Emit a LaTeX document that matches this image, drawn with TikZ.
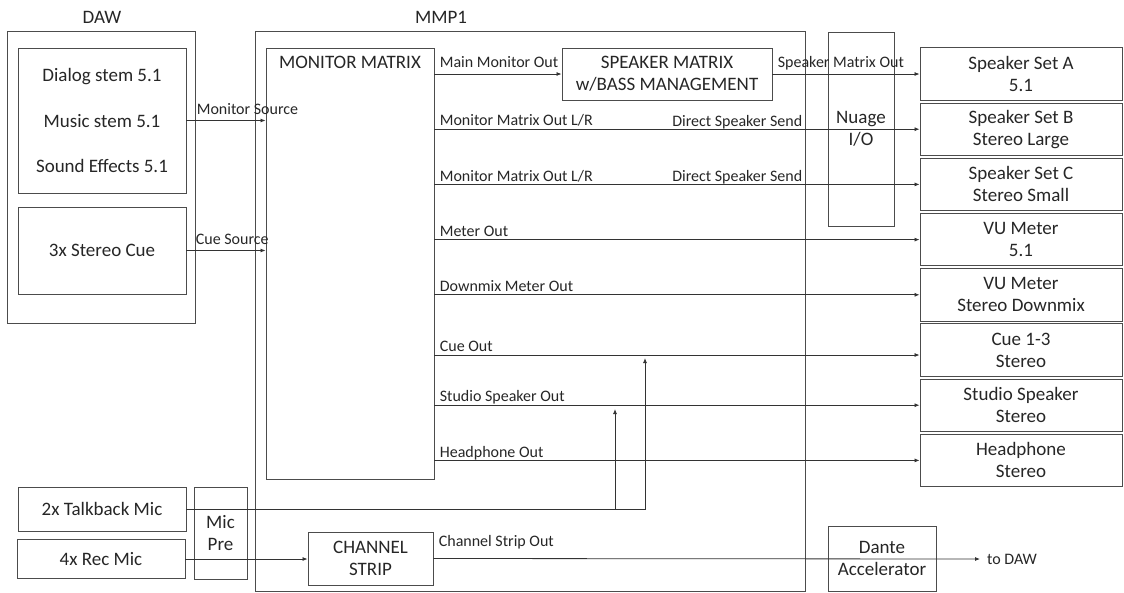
\documentclass[tikz,border=0pt]{standalone}
\usepackage{fontspec}
\setmainfont{Carlito}
\usetikzlibrary{positioning,arrows.meta}

\begin{document}
\begin{tikzpicture}[x=1pt, y=-1pt,
      node distance=1.8pt,
      box/.style={draw=black!70, line width=0.9pt, align=center, inner sep=2pt,
                  text=black!85, font=\fontsize{19}{22}\selectfont},
      outbox/.style={box, minimum width=202pt, minimum height=52.5pt},
      heading/.style={text=black!85, font=\fontsize{19}{22}\selectfont},
      lbl/.style={text=black!85, font=\fontsize{16}{19}\selectfont,
                  inner xsep=5pt, inner ysep=3pt, text depth=0pt},
      lblhi/.style={lbl, yshift=3pt},
      wire/.style={draw=black!80, line width=0.8pt},
      >={Latex[length=5pt,width=4pt]}]
    \useasboundingbox (0,0) rectangle (1124,592);

    % DAW
    \node[heading] (dawtitle) at (102,17) {DAW};
    \node[box, minimum width=188pt, minimum height=292pt] (daw) at (101,177) {};
    \node[box, minimum width=168pt, minimum height=145pt,
          font=\fontsize{19}{45.5}\selectfont] (stems) at (102,120.5)
          {Dialog stem 5.1\\ Music stem 5.1\\ Sound Effects 5.1};
    \node[box, minimum width=168pt, minimum height=87pt] (cuesrc) at (102,250.5) {3x Stereo Cue};

    % MMP1
    \node[heading] (mmptitle) at (441,17) {MMP1};
    \node[box, minimum width=550pt, minimum height=560pt] (mmp) at (530,311) {};
    \node[box, minimum width=168pt, minimum height=431pt] (mm) at (350,263.5) {};
    \node[heading, below=5pt of mm.north] (mmtitle) {MONITOR MATRIX};
    \node[box, minimum width=210pt, minimum height=52pt] (spkm) at (667,74)
          {SPEAKER MATRIX\\ w/BASS MANAGEMENT};
    \node[box, minimum width=125pt, minimum height=53pt] (strip) at (370.5,558.5) {CHANNEL\\ STRIP};
    \node[box, minimum width=66pt, minimum height=194pt] (nuage) at (861,129) {Nuage\\ I/O};
    \node[box, minimum width=108pt, minimum height=65pt] (dante) at (882,558.5) {Dante\\ Accelerator};

    % mics
    \node[box, minimum width=168pt, minimum height=44pt] (tb) at (102,509) {2x Talkback Mic};
    \node[box, minimum width=168pt, minimum height=39pt] (rec) at (101,559) {4x Rec Mic};
    \node[box, minimum width=53pt, minimum height=92pt] (micpre) at (220.5,533) {Mic\\ Pre};

    % outputs
    \node[outbox] (spkA) at (1021,74) {Speaker Set A\\ 5.1};
    \node[outbox, below=of spkA]   (spkB)   {Speaker Set B\\ Stereo Large};
    \node[outbox, below=of spkB]   (spkC)   {Speaker Set C\\ Stereo Small};
    \node[outbox, below=of spkC]   (vu)     {VU Meter\\ 5.1};
    \node[outbox, below=of vu]     (vudm)   {VU Meter\\ Stereo Downmix};
    \node[outbox, below=of vudm]   (cue)    {Cue 1-3\\ Stereo};
    \node[outbox, below=of cue]    (studio) {Studio Speaker\\ Stereo};
    \node[outbox, below=of studio] (hp)     {Headphone\\ Stereo};

    \coordinate (cuein)    at (645,358);
    \coordinate (studioin) at (615,409);
    \coordinate (todaw)    at (980,559);

    % sources into the matrix
    \draw[wire, ->] (stems.east) -- node[lblhi, pos=0, above right, xshift=5pt] {Monitor Source} (stems.east -| mm.west);
    \draw[wire, ->] (cuesrc.east) -- node[lblhi, pos=0, above right, xshift=4pt] {Cue Source} (cuesrc.east -| mm.west);

    % matrix outputs
    \draw[wire, ->] (spkm.west -| mm.east) -- node[lblhi, pos=0, above right] {Main Monitor Out} (spkm.west);
    \draw[wire, ->] (spkm.east) -- node[lblhi, pos=0, above right] {Speaker Matrix Out} (spkA.west);
    \draw[wire, ->] (spkB.west -| mm.east) -- node[lbl, pos=0, above right] {Monitor Matrix Out L/R} (spkB.west);
    \draw[wire, ->] (spkC.west -| mm.east) -- node[lbl, pos=0, above right] {Monitor Matrix Out L/R} (spkC.west);
    \node[lbl, anchor=south east, inner xsep=3pt] at (spkB.west -| mmp.east) {Direct Speaker Send};
    \node[lbl, anchor=south east, inner xsep=3pt] at (spkC.west -| mmp.east) {Direct Speaker Send};
    \draw[wire, ->] (vu.west -| mm.east) -- node[lbl, pos=0, above right] {Meter Out} (vu.west);
    \draw[wire, ->] (vudm.west -| mm.east) -- node[lbl, pos=0, above right] {Downmix Meter Out} (vudm.west);
    \draw[wire, ->] ([yshift=-5pt]cue.west -| mm.east) -- node[lbl, pos=0, above right] {Cue Out} ([yshift=-5pt]cue.west);
    \draw[wire, ->] (studio.west -| mm.east) -- node[lbl, pos=0, above right] {Studio Speaker Out} (studio.west);
    \draw[wire, ->] (hp.west -| mm.east) -- node[lbl, pos=0, above right] {Headphone Out} (hp.west);

    % talkback and recording
    \draw[wire, ->] (tb.east) -| (cuein);
    \draw[wire, ->] (tb.east -| studioin) -- (studioin);
    \draw[wire, ->] (rec.east) -- (rec.east -| strip.west);
    \draw[wire, ->] (strip.east) -- node[lbl, pos=0, above right, yshift=9pt] {Channel Strip Out} (todaw);
    \node[lbl, right=2pt of todaw] (todawtxt) {to DAW};
  \end{tikzpicture}
\end{document}
